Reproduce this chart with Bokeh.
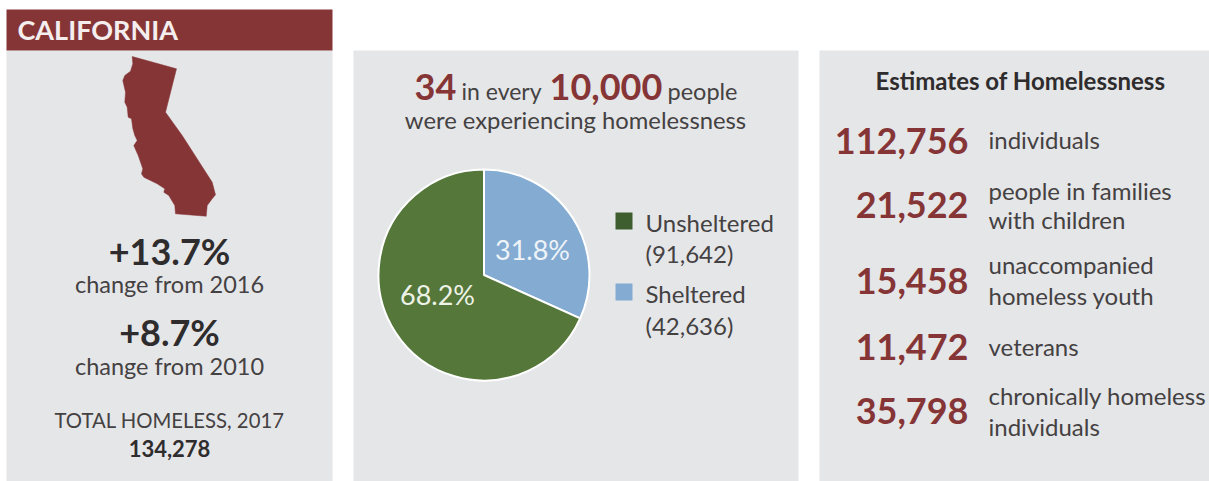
from bokeh.core.properties import value
from bokeh.embed import file_html
from bokeh.models import Range1d
from bokeh.plotting import figure
from bokeh.resources import INLINE
import numpy as np

W, H = 1209, 481
RED = "#863537"
INK = "#2f2c2d"
BODY = "#444142"
PANEL = "#e5e6e8"
FONT = "Lato"
BASELINE_SHIFT = 0.41  # the svg text sits this fraction of its size below the requested baseline

# Homelessness figures
state = "CALIFORNIA"
pie_labels = ["Sheltered", "Unsheltered"]
pie_counts = [42636, 91642]
pie_shares = ["31.8%", "68.2%"]
pie_colors = ["#84abd2", "#55773a"]
legend_colors = ["#3f5e30", "#84abd2"]
estimate_numbers = ["112,756", "21,522", "15,458", "11,472", "35,798"]
estimate_lines = [["individuals"], ["people in families", "with children"],
                  ["unaccompanied", "homeless youth"], ["veterans"],
                  ["chronically homeless", "individuals"]]

# State outline, in page pixels, clockwise from the north-west corner
ca_x = [131.7, 176, 165, 181.7, 211.7, 215, 211.7, 206.7, 205.7, 175, 174.3, 168.3, 163.3, 164.3,
        156.7, 143.3, 141, 142.3, 137.7, 133.3, 136.7, 134.3, 132.3, 131, 127.7, 126.7, 124.3,
        125, 122.3, 124.3, 130, 132.3]
ca_y = [56, 68.3, 111.7, 135, 181.7, 194.3, 198.3, 205, 215.7, 213.3, 205, 195, 191.7, 188.3,
        183.3, 176.7, 173.3, 168.3, 155, 145, 140, 135, 128, 118.3, 116.7, 106.7, 101.7,
        91.7, 80, 75, 70.7, 63.3]

p = figure(width=W, height=H, output_backend="svg", toolbar_location=None,
           x_range=Range1d(0, W), y_range=Range1d(0, H), min_border=0,
           background_fill_color="white", border_fill_color="white", outline_line_color=None)
p.axis.visible = False
p.grid.visible = False


def fy(y):
    return H - y


def label(text, x, y, size, color=BODY, bold=False, align="left"):
    p.text([x], [fy(y - BASELINE_SHIFT * size)], text=[text], text_font=value(FONT),
           text_font_size=f"{size}px", text_color=color, text_align=align,
           text_baseline="alphabetic", text_font_style="bold" if bold else "normal")


def box(x0, x1, y0, y1, color):
    p.quad(left=[x0], right=[x1], top=[fy(y0)], bottom=[fy(y1)], fill_color=color, line_color=None)


# Panels
box(6, 332, 50, 481, PANEL)
box(353, 798, 50, 481, PANEL)
box(819, 1209, 50, 481, PANEL)
box(6, 332, 9, 50, RED)

# Left panel
label(state, 17, 40, 27, "#f4efee", True)
p.patch(ca_x, [fy(v) for v in ca_y], fill_color=RED, line_color=RED, line_width=0.5)
label("+13.7%", 169, 265, 36, INK, True, "center")
label("change from 2016", 169, 293, 23.5, BODY, False, "center")
label("+8.7%", 169, 346, 36, INK, True, "center")
label("change from 2010", 169, 375, 23.5, BODY, False, "center")
label("TOTAL HOMELESS, 2017", 169, 428, 20.3, BODY, False, "center")
label("134,278", 169, 457, 22, INK, True, "center")

# Middle panel heading
label("34", 414, 101, 36, RED, True)
label("in every", 461, 100, 23)
label("10,000", 549, 101, 36, RED, True)
label("people", 667, 100, 23.5)
label("were experiencing homelessness", 575, 129, 23.8, BODY, False, "center")

# Pie, clockwise from twelve o'clock
cx, cy, radius = 483.5, 274.5, 105.5
fractions = np.array(pie_counts) / sum(pie_counts)
edges = np.pi / 2 - 2 * np.pi * np.concatenate([[0], np.cumsum(fractions)])
p.wedge([cx] * 2, [fy(cy)] * 2, radius=radius, start_angle=edges[:-1], end_angle=edges[1:],
        direction="clock", fill_color=pie_colors, line_color="white", line_width=2)
label(pie_shares[0], 532, 260, 27, "#eef3f8", False, "center")
label(pie_shares[1], 437, 305, 27, "#eef3e8", False, "center")

# Legend
box(615, 632, 212, 229, legend_colors[0])
box(615, 632, 283, 300, legend_colors[1])
label(pie_labels[1], 645, 232, 24)
label(f"({pie_counts[1]:,})", 645, 263, 24)
label(pie_labels[0], 645, 303, 24)
label(f"({pie_counts[0]:,})", 645, 335, 24)

# Right panel
label("Estimates of Homelessness", 1020, 90, 24, INK, True, "center")
number_baselines = [155, 219, 295, 361, 425]
line_baselines = [[149], [200, 229], [274, 305], [356], [405, 436]]
for number, base, lines, ys in zip(estimate_numbers, number_baselines, estimate_lines, line_baselines):
    label(number, 968, base, 36, RED, True, "right")
    for line, y in zip(lines, ys):
        label(line, 988, y, 24)

open("out.html", "w").write(file_html(p, INLINE))
